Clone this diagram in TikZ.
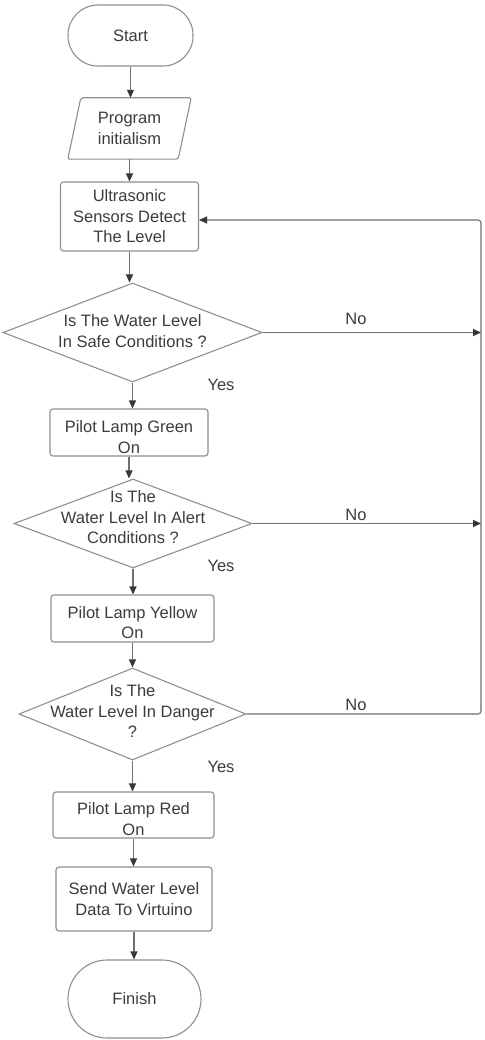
\documentclass[tikz,border=0pt]{standalone}
\usepackage{fontspec}
\setmainfont{Liberation Sans}
\usetikzlibrary{shapes.geometric,arrows.meta}
\definecolor{txt}{HTML}{3C3C3C}
\definecolor{edge}{HTML}{8F8F8F}
\definecolor{conn}{HTML}{707070}
\definecolor{tip}{HTML}{333840}
\begin{document}
\begin{tikzpicture}[x=1pt,y=-1pt,
  every node/.style={font=\fontsize{16.5}{20.5}\selectfont, text=txt, align=center},
  term/.style={draw=edge, line width=1.1pt, rounded corners=#1, inner sep=0pt},
  proc/.style={draw=edge, line width=1.1pt, rounded corners=3pt, inner sep=0pt},
  dec/.style={diamond, draw=edge, line width=1.1pt, inner sep=0pt},
  flow/.style={draw=conn, line width=1.1pt, -{Triangle[length=8pt,width=7pt,color=tip]}},
  lab/.style={inner sep=0pt}]
\useasboundingbox (0,0) rectangle (484,1040);
\fill[white] (0,0) rectangle (484,1040);
% nodes
\node[term=30pt, minimum width=125pt, minimum height=61pt] (start) at (130.5,35.5) {Start};
\node[minimum width=110pt, minimum height=61pt, inner sep=0pt] (prog) at (129.5,128.5) {Program\\initialism};
\draw[draw=edge, line width=1.1pt, rounded corners=2pt]
  ([xshift=6.5pt]prog.north west) -- ([xshift=6.5pt]prog.north east)
  -- ([xshift=-6.5pt]prog.south east) -- ([xshift=-6.5pt]prog.south west) -- cycle;
\node[proc, minimum width=138pt, minimum height=69pt] (sense) at (129.5,216.5) {Ultrasonic\\Sensors Detect\\The Level};
\node[dec, minimum width=259pt, minimum height=99pt] (d1) at (132.5,332.5) {};
\node (t1) at (132.5,331) {Is The Water Level\\In Safe Conditions ?};
\node[proc, minimum width=158pt, minimum height=47pt] (green) at (129,432.5) {};
\node (tg) at (129,437) {Pilot Lamp Green\\On};
\node[dec, minimum width=238pt, minimum height=89pt] (d2) at (133,523.5) {};
\node (t2) at (133,517.5) {Is The\\Water Level In Alert\\Conditions ?};
\node[proc, minimum width=163pt, minimum height=47pt] (yellow) at (132.5,618.5) {};
\node (ty) at (132.5,622.5) {Pilot Lamp Yellow\\On};
\node[dec, minimum width=227pt, minimum height=92pt] (d3) at (132.5,714) {};
\node (t3) at (132.5,711.5) {Is The\\Water Level In Danger\\?};
\node[proc, minimum width=161pt, minimum height=46pt] (red) at (133.5,815) {};
\node (tr) at (133.5,819) {Pilot Lamp Red\\On};
\node[proc, minimum width=156pt, minimum height=64pt] (send) at (134,899) {Send Water Level\\Data To Virtuino};
\node[term=39pt, minimum width=133pt, minimum height=78pt] (finish) at (134.5,999) {Finish};
% labels
\node[lab] (no1) at (356,319) {No};
\node[lab] (no2) at (356,515) {No};
\node[lab] (no3) at (356,705) {No};
\node[lab] (yes1) at (221,385) {Yes};
\node[lab] (yes2) at (221,566) {Yes};
\node[lab] (yes3) at (221,767) {Yes};
% loop corners
\coordinate (loopA) at (481,714);
\coordinate (loopB) at (481,220);
% connectors
\draw[flow] (start.south) -- (start.south |- prog.north);
\draw[flow] (prog.south) -- (prog.south |- sense.north);
\draw[flow] (sense.south) -- (sense.south |- d1.north);
\draw[flow] (d1.south) -- (d1.south |- green.north);
\draw[flow] (green.south) -- (green.south |- d2.north);
\draw[flow] (d2.south) -- (d2.south |- yellow.north);
\draw[flow] (yellow.south) -- (yellow.south |- d3.north);
\draw[flow] (d3.south) -- (d3.south |- red.north);
\draw[flow] (red.south) -- (red.south |- send.north);
\draw[flow] (send.south) -- (send.south |- finish.north);
\draw[flow] (d1.east) -- (d1.east -| loopA);
\draw[flow] (d2.east) -- (d2.east -| loopA);
\draw[flow, rounded corners=3pt] (d3.east) -- (loopA) -- (loopB) -- (sense.east |- loopB);
\end{tikzpicture}
\end{document}
